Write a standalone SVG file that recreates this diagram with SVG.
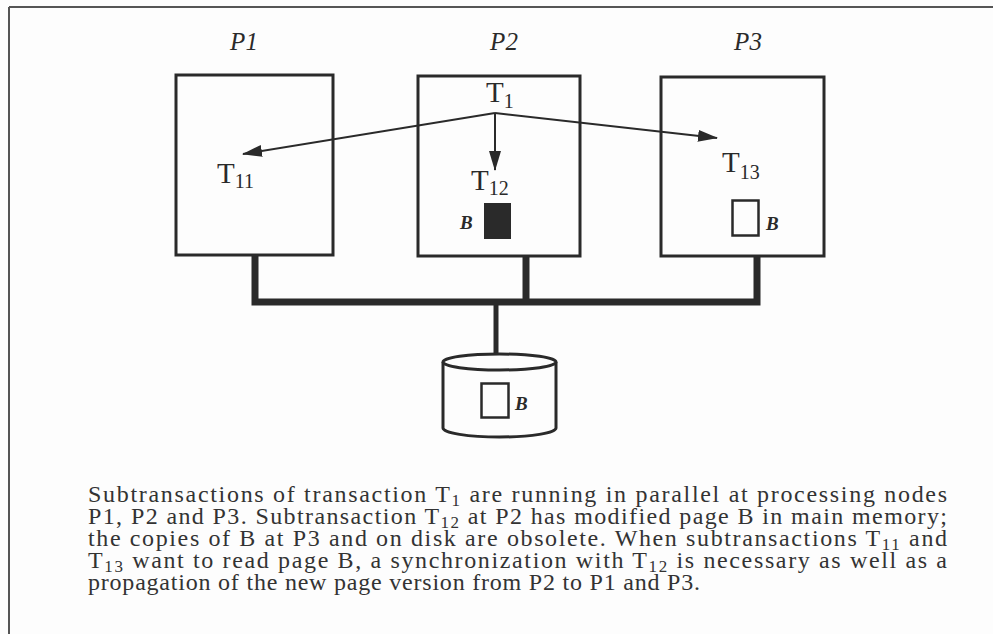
<svg xmlns="http://www.w3.org/2000/svg" width="993" height="634" viewBox="0 0 993 634">
<style>
.box{fill:none;stroke:#2a2a2a;stroke-width:3}
.bus{fill:none;stroke:#2a2a2a;stroke-width:7}
.arr{fill:none;stroke:#2a2a2a;stroke-width:2}
.lbl{font-family:"Liberation Serif",serif;font-style:italic;font-size:25px;fill:#2a2a2a}
.t{font-family:"Liberation Serif",serif;font-size:29px;fill:#2a2a2a}
.s{font-size:20px}
.b{font-family:"Liberation Serif",serif;font-style:italic;font-weight:bold;font-size:19px;fill:#2a2a2a}
.cap{font-family:"Liberation Serif",serif;font-size:24px;fill:#333}
.cs{font-size:17px}
</style>
<defs>
<marker id="ah" markerWidth="20" markerHeight="12" refX="19" refY="6" orient="auto" markerUnits="userSpaceOnUse">
<path d="M0,0 L20,6 L0,12 Z" fill="#2a2a2a"/>
</marker>
</defs>
<rect x="0" y="0" width="993" height="634" fill="#fdfdfd"/>
<g id="frame">
<line x1="9" y1="7" x2="993" y2="7" stroke="#555" stroke-width="2"/>
<line x1="9" y1="7" x2="9" y2="634" stroke="#555" stroke-width="2"/>
</g>
<g id="connectors">
<polyline class="bus" points="255,255 255,302 757,302 757,256"/>
<line class="bus" x1="526" y1="256" x2="526" y2="302"/>
<line class="bus" x1="496" y1="302" x2="496" y2="356" style="stroke-width:5"/>
<line class="arr" x1="495" y1="113" x2="243" y2="154" marker-end="url(#ah)"/>
<line class="arr" x1="495" y1="113" x2="717" y2="138" marker-end="url(#ah)"/>
<line class="arr" x1="495" y1="113" x2="495" y2="170" marker-end="url(#ah)"/>
</g>
<g id="P1">
<text class="lbl" x="244" y="50" text-anchor="middle">P1</text>
<rect class="box" x="176" y="75" width="157" height="180"/>
<text class="t" x="217" y="183">T<tspan class="s" dy="5">11</tspan></text>
</g>
<g id="P2">
<text class="lbl" x="504" y="50" text-anchor="middle">P2</text>
<rect class="box" x="418" y="76" width="162" height="180" fill="#fdfdfd"/>
<text class="t" x="486" y="102">T<tspan class="s" dy="6">1</tspan></text>
<text class="t" x="471" y="190">T<tspan class="s" dy="5">12</tspan></text>
<rect x="484" y="203" width="27" height="36" fill="#2a2a2a"/>
<text class="b" x="460" y="229">B</text>
</g>
<g id="P3">
<text class="lbl" x="748" y="50" text-anchor="middle">P3</text>
<rect class="box" x="661" y="77" width="163" height="179"/>
<text class="t" x="722" y="172">T<tspan class="s" dy="7">13</tspan></text>
<rect x="732.5" y="200.5" width="26" height="35" fill="none" stroke="#2a2a2a" stroke-width="2.5"/>
<text class="b" x="766" y="230">B</text>
</g>
<g id="disk">
<path d="M443,362 L443,428 A56.5,9 0 0 0 556,428 L556,362" fill="#fdfdfd" stroke="#2a2a2a" stroke-width="3"/>
<ellipse cx="499.5" cy="362" rx="56.5" ry="8" fill="#fdfdfd" stroke="#2a2a2a" stroke-width="3"/>
<rect x="481.5" y="383.5" width="27" height="34" fill="none" stroke="#2a2a2a" stroke-width="2.5"/>
<text class="b" x="515" y="410">B</text>
</g>
<g id="caption">
<text class="cap" x="88" y="502" textLength="859" lengthAdjust="spacing">Subtransactions of transaction T<tspan class="cs" dy="4">1</tspan><tspan dy="-4"> are running in parallel at processing nodes</tspan></text>
<text class="cap" x="88" y="524" textLength="859" lengthAdjust="spacing">P1, P2 and P3. Subtransaction T<tspan class="cs" dy="4">12</tspan><tspan dy="-4"> at P2 has modified page B in main memory;</tspan></text>
<text class="cap" x="88" y="546" textLength="859" lengthAdjust="spacing">the copies of B at P3 and on disk are obsolete. When subtransactions T<tspan class="cs" dy="4">11</tspan><tspan dy="-4"> and</tspan></text>
<text class="cap" x="88" y="568" textLength="859" lengthAdjust="spacing">T<tspan class="cs" dy="4">13</tspan><tspan dy="-4"> want to read page B, a synchronization with T</tspan><tspan class="cs" dy="4">12</tspan><tspan dy="-4"> is necessary as well as a</tspan></text>
<text class="cap" x="88" y="590" textLength="612" lengthAdjust="spacing">propagation of the new page version from P2 to P1 and P3.</text>
</g>
</svg>
